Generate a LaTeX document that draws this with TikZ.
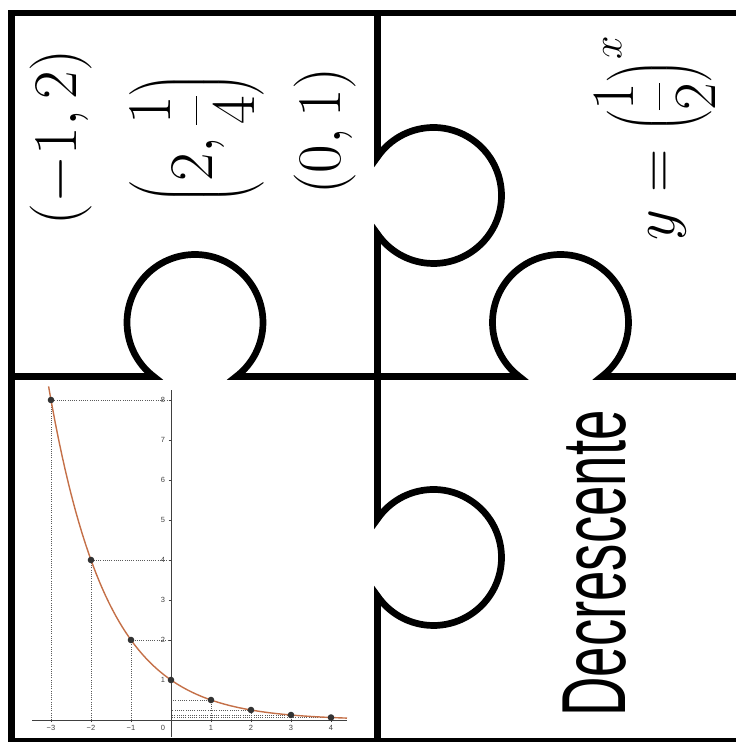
\RequirePackage{fix-cm}
\documentclass[tikz,border=0pt]{standalone}
\usepackage{amsmath}
\usepackage{fontspec}
\usepackage{tikz}
\usetikzlibrary{calc}
\definecolor{curvebrown}{RGB}{196,112,72}
\definecolor{pointgray}{RGB}{51,51,51}
\definecolor{axisgray}{RGB}{64,64,64}
\definecolor{guidegray}{RGB}{90,90,90}
\newfontfamily\narrowfont[FakeStretch=0.6]{Liberation Sans}
\newfontfamily\tickfont{Liberation Sans}

\begin{document}
\begin{tikzpicture}[x=1pt,y=1pt,
    piece/.style={line width=6.7pt,black},
    pointmath/.style={rotate=90,inner sep=0pt,font=\fontsize{62}{62}\selectfont},
    rulemath/.style={rotate=90,inner sep=0pt,font=\fontsize{60}{60}\selectfont},
    wordbox/.style={rotate=90,inner sep=0pt,font=\narrowfont\fontsize{91}{91}\selectfont},
    axis/.style={axisgray,line width=0.8pt},
    guide/.style={guidegray,line width=0.6pt,dash pattern=on 0.7pt off 1.5pt},
    ticklabel/.style={inner sep=0pt,text=axisgray,font=\tickfont\fontsize{7.5}{8}\selectfont}]
        \useasboundingbox (0,0) rectangle (736,742);
        \clip (0,0) rectangle (736,742);

        \coordinate (holeA) at (195,419.5);
        \coordinate (holeB) at (560.5,419.5);
        \coordinate (knobA) at (433.5,546.5);
        \coordinate (knobB) at (433.5,184.5);

        \draw[piece] (745,0.5) -- (11.5,0.5) -- (11.5,729) -- (745,729);
        \draw[piece] (11.5,365.5) -- ([shift={(232.6:68)}]holeA)
            arc[start angle=232.6,end angle=-52.6,radius=68]
            -- ([shift={(232.6:68)}]holeB)
            arc[start angle=232.6,end angle=-52.6,radius=68] -- (745,365.5);
        \draw[piece] (377.5,729) -- ([shift={(145.4:68)}]knobA)
            arc[start angle=145.4,end angle=-145.4,radius=68]
            -- ([shift={(145.4:68)}]knobB)
            arc[start angle=145.4,end angle=-145.4,radius=68] -- (377.5,-5);

        \node[pointmath] (ptA) at (61.5,604.5) {$(-1,2)$};
        \node[pointmath] (ptB) at (196.5,603.5) {$\displaystyle\left(2,\frac{1}{4}\right)$};
        \node[pointmath] (ptC) at (325,611) {$(0,1)$};
        \node[rulemath] (rule) at (655,604) {$\displaystyle y=\Bigl(\frac{1}{2}\Bigr)^{x}$};
        \node[wordbox] (trend) at (594.5,178.5) {Decrescente};

        \begin{scope}[shift={(171,22)},x=40pt,y=40pt]
            \foreach \n in {-3,...,4}
                \draw[guide] (\n,0) -- (\n,{exp(-0.693147*(\n))}) -- (0,{exp(-0.693147*(\n))});
            \draw[axis] (-3.475,0) -- (4.4,0);
            \draw[axis] (0,-0.43) -- (0,8.25);
            \foreach \k in {1,...,8} {
                \draw[axis,line width=0.5pt] (-0.06,\k) -- (0,\k);
                \node[ticklabel] (ylab\k) at (-0.2,\k) {\k};
            }
            \foreach \n/\t in {-3/−3,-2/−2,-1/−1,1/1,2/2,3/3,4/4} {
                \draw[axis,line width=0.5pt] (\n,-0.06) -- (\n,0);
                \node[ticklabel] (xlab\n) at (\n,-0.2) {\t};
            }
            \node[ticklabel] (orig) at (-0.2,-0.2) {0};
            \draw[curvebrown,line width=1.4pt] plot[domain=-3.06:4.4,samples=90] (\x,{exp(-0.693147*(\x))});
            \foreach \n in {-3,...,4}
                \fill[pointgray] (\n,{exp(-0.693147*(\n))}) circle (3.3pt);
        \end{scope}
      \end{tikzpicture}
\end{document}
